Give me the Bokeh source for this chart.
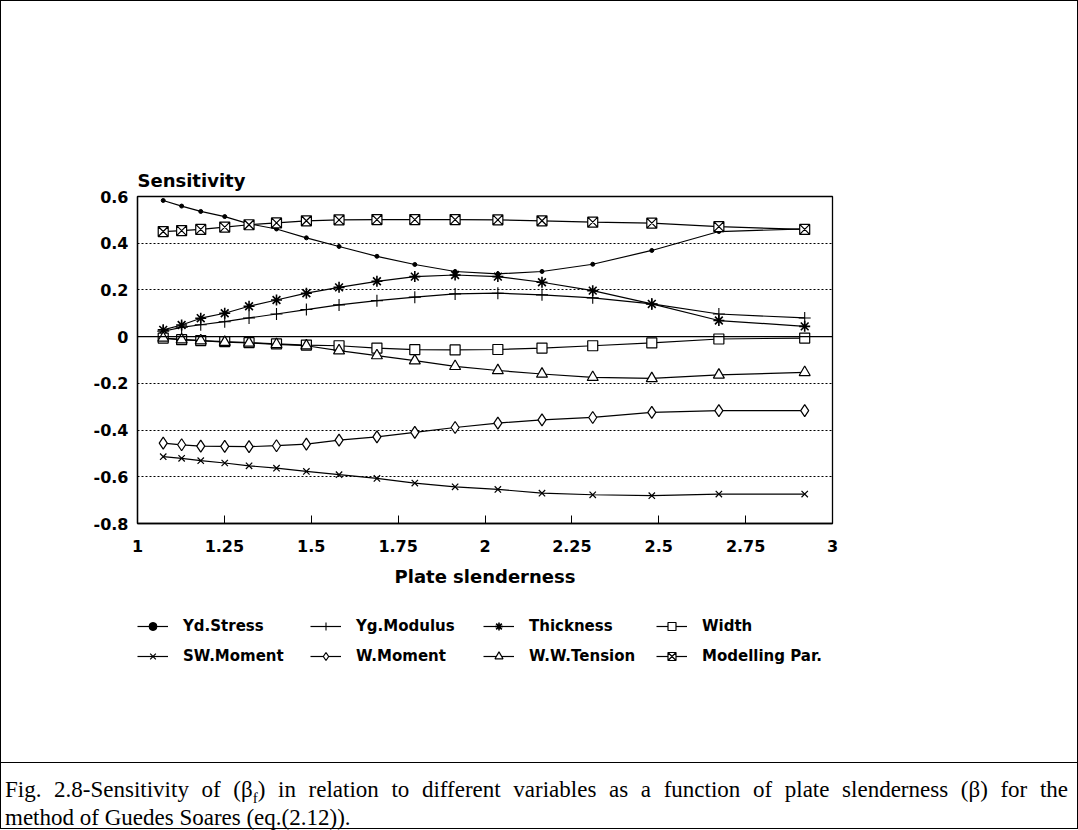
from bokeh.plotting import figure
from bokeh.models import Range1d, FixedTicker, Span, Legend, LegendItem, Div
from bokeh.layouts import column
from bokeh.embed import file_html
from bokeh.resources import INLINE

# ---- data ----
slenderness = [1.074, 1.127, 1.182, 1.251, 1.321, 1.400, 1.486, 1.580, 1.689,
               1.798, 1.914, 2.037, 2.164, 2.310, 2.480, 2.673, 2.920]
yd_stress = [0.583, 0.559, 0.536, 0.514, 0.483, 0.461, 0.423, 0.386, 0.344,
             0.309, 0.279, 0.269, 0.279, 0.310, 0.369, 0.450, 0.461]
yg_modulus = [0.023, 0.040, 0.051, 0.064, 0.080, 0.097, 0.116, 0.136, 0.154,
              0.169, 0.183, 0.186, 0.179, 0.166, 0.140, 0.097, 0.080]
thickness = [0.029, 0.050, 0.079, 0.100, 0.130, 0.157, 0.186, 0.211, 0.237,
             0.257, 0.264, 0.257, 0.233, 0.197, 0.140, 0.069, 0.044]
width_s = [-0.006, -0.013, -0.017, -0.021, -0.026, -0.031, -0.036, -0.039, -0.049,
           -0.056, -0.057, -0.055, -0.049, -0.039, -0.027, -0.010, -0.006]
sw_moment = [-0.514, -0.521, -0.531, -0.541, -0.553, -0.563, -0.577, -0.591, -0.607,
             -0.627, -0.643, -0.654, -0.670, -0.677, -0.681, -0.674, -0.674]
w_moment = [-0.456, -0.463, -0.469, -0.470, -0.471, -0.467, -0.460, -0.443, -0.429,
            -0.410, -0.389, -0.370, -0.356, -0.346, -0.324, -0.317, -0.317]
ww_tension = [-0.006, -0.013, -0.017, -0.024, -0.027, -0.033, -0.039, -0.060, -0.081,
              -0.103, -0.127, -0.145, -0.160, -0.174, -0.179, -0.164, -0.153]
modelling = [0.450, 0.454, 0.459, 0.469, 0.479, 0.487, 0.496, 0.500, 0.501,
             0.501, 0.501, 0.500, 0.496, 0.490, 0.486, 0.471, 0.459]

series_names = ["Yd.Stress", "Yg.Modulus", "Thickness", "Width",
                "SW.Moment", "W.Moment", "W.W.Tension", "Modelling Par."]
series_values = [yd_stress, yg_modulus, thickness, width_s,
                 sw_moment, w_moment, ww_tension, modelling]

x_ticks = [1, 1.25, 1.5, 1.75, 2, 2.25, 2.5, 2.75, 3]
x_tick_labels = ["1", "1.25", "1.5", "1.75", "2", "2.25", "2.5", "2.75", "3"]
y_ticks = [0.6, 0.4, 0.2, 0, -0.2, -0.4, -0.6, -0.8]
y_tick_labels = ["0.6", "0.4", "0.2", "0", "-0.2", "-0.4", "-0.6", "-0.8"]
grid_ticks = [0.4, 0.2, -0.2, -0.4, -0.6]

title_text = "Sensitivity"
x_title = "Plate slenderness"

# ---- styles ----
FONT = "DejaVu Sans"
marker_styles = [
    dict(marker="circle", size=4, fill_color="black", line_width=1),
    dict(marker="cross", size=12, fill_color="white", line_width=1.1),
    dict(marker="asterisk", size=11, fill_color="white", line_width=1.6),
    dict(marker="square", size=10, fill_color="white", line_width=1.2),
    dict(marker="x", size=9, fill_color="white", line_width=1.2),
    dict(marker="diamond", size=12, fill_color="white", line_width=1.2),
    dict(marker="triangle", size=11, fill_color="white", line_width=1.2),
    dict(marker="square_x", size=10, fill_color="white", line_width=1.2),
]

# ---- main chart ----
p = figure(width=1076, height=600,
           x_range=Range1d(1, 3), y_range=Range1d(-0.8, 0.6),
           output_backend="svg", toolbar_location=None,
           min_border_left=136, min_border_right=245,
           min_border_top=195, min_border_bottom=78,
           background_fill_color="white", border_fill_color="white")

p.outline_line_color = "black"
p.outline_line_width = 1.3

p.title.text = title_text
p.title.align = "left"
p.title.text_font = FONT
p.title.text_font_size = "18px"
p.title.text_font_style = "bold"
p.title.text_color = "black"
p.title.standoff = 11
p.title.offset = 0

p.xaxis.ticker = FixedTicker(ticks=x_ticks)
p.xaxis.major_label_overrides = {t: l for t, l in zip(x_ticks, x_tick_labels)}
p.yaxis.ticker = FixedTicker(ticks=y_ticks)
p.yaxis.major_label_overrides = {t: l for t, l in zip(y_ticks, y_tick_labels)}
for ax in (p.xaxis, p.yaxis):
    ax.axis_line_color = "black"
    ax.axis_line_width = 1.3
    ax.major_label_text_font = FONT
    ax.major_label_text_font_size = "16px"
    ax.major_label_text_font_style = "bold"
    ax.major_label_text_color = "black"
    ax.minor_tick_line_color = None
p.xaxis.major_tick_in = 8
p.xaxis.major_tick_out = 0
p.xaxis.major_tick_line_color = "black"
p.xaxis.major_label_standoff = 16
p.yaxis.major_tick_line_color = None
p.yaxis.major_tick_in = 0
p.yaxis.major_tick_out = 0
p.yaxis.major_label_standoff = 9

p.xaxis.axis_label = x_title
p.xaxis.axis_label_text_font = FONT
p.xaxis.axis_label_text_font_size = "18px"
p.xaxis.axis_label_text_font_style = "bold"
p.xaxis.axis_label_text_color = "black"
p.xaxis.axis_label_standoff = 11

p.xgrid.grid_line_color = None
p.ygrid.ticker = FixedTicker(ticks=grid_ticks)
p.ygrid.grid_line_color = "black"
p.ygrid.grid_line_dash = "2 2"
p.ygrid.grid_line_width = 1

p.add_layout(Span(location=0, dimension="width", line_color="black", line_width=1.2))

for name, vals, ms in zip(series_names, series_values, marker_styles):
    p.line(slenderness, vals, line_color="black", line_width=1.2)
    p.scatter(slenderness, vals, marker=ms["marker"], size=ms["size"],
              line_color="black", fill_color=ms["fill_color"],
              line_width=ms["line_width"])

# ---- legend strip (own figure; its ranges keep the series out of view) ----
pl = figure(width=1076, height=161, x_range=Range1d(-2, -1), y_range=Range1d(-2, -1),
            output_backend="svg", toolbar_location=None,
            x_axis_type=None, y_axis_type=None,
            min_border=0, min_border_left=0, min_border_right=0,
            min_border_top=0, min_border_bottom=0,
            background_fill_color="white", border_fill_color="white")
pl.outline_line_color = None
pl.grid.grid_line_color = None

items = []
for name, vals, ms in zip(series_names, series_values, marker_styles):
    lr = pl.line(slenderness, vals, line_color="black", line_width=1.2)
    sr = pl.scatter(slenderness, vals, marker=ms["marker"], size=ms["size"],
                    line_color="black", fill_color=ms["fill_color"],
                    line_width=ms["line_width"])
    items.append(LegendItem(label=name, renderers=[lr, sr]))

leg = Legend(items=items, location=(0, 96), orientation="horizontal", ncols=4,
             glyph_width=31, glyph_height=20, label_height=20, label_width=117,
             label_standoff=15, spacing=10, padding=0, margin=0,
             border_line_color=None, background_fill_alpha=0,
             label_text_font=FONT, label_text_font_size="15px",
             label_text_font_style="bold", label_text_color="black",
             label_text_baseline="middle")
pl.add_layout(leg, "center")

# ---- caption ----
caption_html = (
    '<div style="width: 1063px; font-family: \'Liberation Serif\', \'Times New Roman\', serif; '
    'font-size: 23px; line-height: 28px; color: black; padding: 13px 0 0 4px;">'
    '<div style="display: block; width: 1063px; text-align: justify; text-align-last: justify;">'
    'Fig. 2.8-Sensitivity of (&beta;<sub style="font-size: 15px; line-height: 0;">f</sub>) '
    'in relation to different variables as a function of plate slenderness (&beta;) for the</div>'
    '<div>method of Guedes Soares (eq.(2.12)).</div></div>'
)
caption = Div(text=caption_html, width=1076, height=66, margin=0,
              styles={"border-top": "1.3px solid black", "box-sizing": "border-box"})

layout = column(p, pl, caption, styles={"border": "1px solid black"})

open("out.html", "w").write(file_html(layout, INLINE))
